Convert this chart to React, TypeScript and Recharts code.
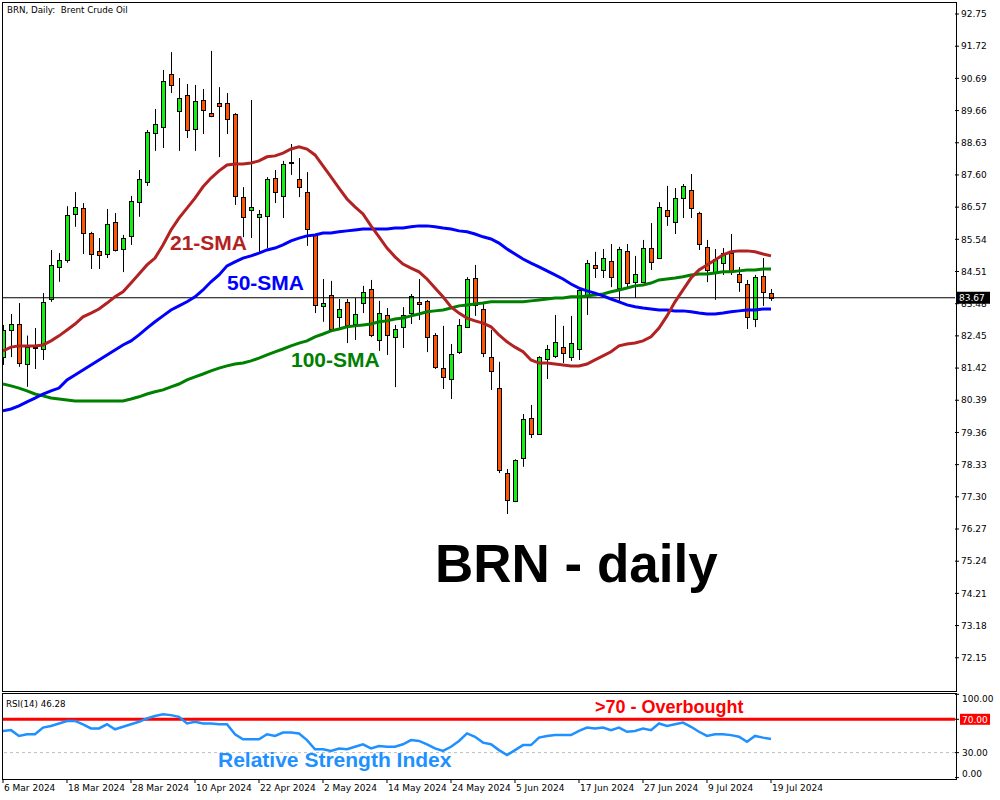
import React from "react";
import { ComposedChart, Bar, Line, XAxis, YAxis, ReferenceLine } from "recharts";

// x axis: one slot per trading day, labels every 8 bars
const dateTicks = [0, 8, 16, 24, 32, 40, 48, 56, 64, 72, 80, 88, 96];
const dateLabels = [
  "6 Mar 2024", "18 Mar 2024", "28 Mar 2024", "10 Apr 2024", "22 Apr 2024",
  "2 May 2024", "14 May 2024", "24 May 2024", "5 Jun 2024", "17 Jun 2024",
  "27 Jun 2024", "9 Jul 2024", "19 Jul 2024",
];

const priceTicks = [
  92.75, 91.72, 90.69, 89.66, 88.63, 87.6, 86.57, 85.54, 84.51, 83.48, 82.45,
  81.42, 80.39, 79.36, 78.33, 77.3, 76.27, 75.24, 74.21, 73.18, 72.15,
];
const rsiTicks = [0, 30, 70, 100];
const lastPrice = 83.67;

const opens = [
  81.77, 82.64, 82.83, 81.55, 82.1, 82.03, 83.63, 84.66, 84.88, 86.35,
  86.54, 85.74, 85.17, 85.07, 86.1, 85.23, 85.65, 86.73, 87.38, 88.94,
  89.13, 90.83, 89.65, 90.16, 89.07, 90.0, 89.58, 89.9, 89.9, 89.55,
  86.89, 86.48, 86.26, 86.29, 87.5, 86.93, 88.0, 87.47, 87.05, 85.68,
  83.41, 83.76, 83.05, 83.53, 82.83, 83.5, 83.95, 82.32, 83.12, 82.41,
  82.73, 83.18, 83.53, 83.57, 82.48, 81.42, 81.07, 81.93, 82.73, 84.3,
  83.31, 81.77, 80.78, 78.06, 77.17, 78.54, 79.82, 79.31, 81.71, 81.81,
  82.1, 81.77, 82.03, 83.73, 84.72, 84.56, 84.85, 83.98, 85.17, 84.17,
  84.17, 85.26, 84.94, 86.48, 86.1, 86.86, 87.12, 86.38, 85.3, 84.49,
  84.78, 85.1, 84.43, 84.11, 82.99, 84.37, 83.82,
];
const highs = [
  82.8, 83.15, 83.5, 82.46, 82.7, 83.82, 85.2, 85.1, 86.6, 87.05,
  86.7, 85.78, 85.58, 86.51, 86.38, 85.68, 86.93, 87.76, 89.04, 89.71,
  90.96, 91.53, 90.7, 90.51, 90.48, 90.35, 91.57, 90.41, 90.22, 89.58,
  87.21, 90.0, 86.48, 87.53, 87.76, 88.05, 88.59, 88.14, 87.69, 85.71,
  84.27, 84.21, 83.63, 83.63, 83.66, 84.05, 84.24, 83.57, 83.34, 82.8,
  83.37, 83.79, 84.27, 83.6, 82.54, 82.77, 82.19, 82.99, 84.33, 84.72,
  83.53, 82.64, 81.62, 78.19, 78.5, 79.95, 80.24, 81.8, 82.16, 83.12,
  82.77, 83.09, 83.95, 84.88, 85.14, 85.23, 85.39, 85.3, 85.39, 85.01,
  85.52, 86.06, 86.73, 87.25, 87.18, 87.31, 87.63, 86.42, 85.52, 85.23,
  85.26, 85.71, 84.65, 84.24, 84.4, 84.94, 83.95,
];
const lows = [
  81.52, 81.77, 81.46, 80.82, 81.39, 81.68, 83.54, 84.18, 84.79, 85.94,
  85.07, 84.59, 84.59, 84.94, 85.15, 84.49, 85.36, 86.26, 87.25, 88.37,
  88.46, 90.22, 88.37, 88.78, 88.37, 88.91, 89.45, 88.17, 88.91, 86.64,
  85.61, 85.58, 85.13, 85.26, 86.7, 86.22, 87.6, 86.89, 85.33, 83.18,
  82.9, 82.57, 82.67, 82.22, 82.32, 83.18, 82.41, 81.97, 81.84, 80.81,
  82.06, 82.83, 82.96, 81.93, 81.39, 80.75, 80.43, 81.87, 82.7, 83.09,
  81.77, 80.72, 78.06, 76.75, 77.13, 78.26, 79.18, 79.28, 81.07, 81.74,
  81.58, 81.65, 81.68, 83.12, 84.3, 84.3, 84.01, 83.54, 84.01, 83.66,
  84.14, 84.56, 84.91, 85.97, 85.71, 86.22, 86.22, 85.2, 84.17, 83.6,
  84.4, 84.4, 83.86, 82.67, 82.73, 83.41, 83.57,
];
const closes = [
  82.64, 82.83, 81.58, 82.1, 82.07, 83.53, 84.72, 84.88, 86.32, 86.58,
  85.74, 85.07, 85.04, 86.03, 85.2, 85.58, 86.77, 87.47, 88.97, 89.23,
  90.61, 90.48, 90.06, 89.04, 89.97, 89.68, 89.49, 89.81, 89.39, 86.93,
  86.26, 86.58, 86.35, 87.47, 87.05, 87.95, 87.97, 87.21, 85.87, 83.44,
  83.5, 82.67, 83.31, 82.8, 83.15, 83.85, 82.48, 83.18, 82.48, 82.67,
  83.12, 83.73, 83.47, 82.41, 81.45, 81.13, 81.87, 82.8, 84.27, 83.44,
  81.9, 81.33, 78.16, 77.2, 78.48, 79.79, 79.31, 81.77, 82.03, 82.26,
  81.9, 82.22, 83.92, 84.78, 84.62, 84.94, 84.33, 85.23, 84.14, 84.43,
  85.26, 84.81, 86.58, 86.29, 86.86, 87.25, 86.54, 85.39, 84.56, 84.91,
  85.1, 84.49, 84.17, 83.05, 84.33, 83.86, 83.67,
];

const sma21 = [
  81.97, 82.09, 82.13, 82.13, 82.13, 82.16, 82.29, 82.45, 82.64, 82.83,
  83.06, 83.18, 83.31, 83.5, 83.7, 83.86, 84.14, 84.43, 84.72, 84.94,
  85.36, 85.84, 86.22, 86.54, 86.86, 87.22, 87.5, 87.73, 87.92, 87.95,
  87.95, 87.98, 88.05, 88.18, 88.21, 88.3, 88.43, 88.5, 88.43, 88.24,
  87.89, 87.54, 87.18, 86.83, 86.58, 86.35, 85.97, 85.62, 85.26, 84.98,
  84.75, 84.62, 84.5, 84.27, 83.98, 83.7, 83.38, 83.18, 83.02, 82.93,
  82.86, 82.74, 82.48, 82.26, 82.09, 81.94, 81.68, 81.58, 81.58, 81.55,
  81.52, 81.49, 81.49, 81.55, 81.68, 81.81, 81.94, 82.13, 82.19, 82.22,
  82.29, 82.42, 82.7, 83.09, 83.54, 83.92, 84.3, 84.56, 84.72, 84.88,
  85.04, 85.14, 85.17, 85.17, 85.14, 85.07, 85.01,
];
const sma50 = [
  80.05, 80.11, 80.21, 80.34, 80.46, 80.59, 80.69, 80.78, 81.04, 81.2,
  81.36, 81.52, 81.68, 81.84, 82.0, 82.16, 82.29, 82.48, 82.7, 82.9,
  83.09, 83.28, 83.41, 83.54, 83.7, 83.92, 84.18, 84.4, 84.69, 84.82,
  84.94, 85.01, 85.1, 85.2, 85.26, 85.36, 85.49, 85.58, 85.65, 85.68,
  85.74, 85.74, 85.78, 85.81, 85.84, 85.87, 85.87, 85.87, 85.87, 85.9,
  85.9, 85.94, 85.97, 85.97, 85.94, 85.9, 85.87, 85.81, 85.78, 85.71,
  85.62, 85.55, 85.42, 85.23, 85.07, 84.91, 84.78, 84.66, 84.53, 84.4,
  84.27, 84.11, 83.98, 83.89, 83.82, 83.73, 83.63, 83.54, 83.44, 83.38,
  83.34, 83.31, 83.28, 83.28, 83.25, 83.25, 83.22, 83.18, 83.15, 83.15,
  83.18, 83.22, 83.25, 83.28, 83.28, 83.31, 83.31,
];
const sma100 = [
  80.91, 80.85, 80.78, 80.69, 80.59, 80.53, 80.46, 80.43, 80.4, 80.37,
  80.37, 80.37, 80.37, 80.37, 80.37, 80.37, 80.43, 80.5, 80.59, 80.66,
  80.72, 80.82, 80.91, 81.04, 81.14, 81.23, 81.33, 81.42, 81.49, 81.55,
  81.58, 81.65, 81.74, 81.84, 81.94, 82.03, 82.13, 82.22, 82.29, 82.42,
  82.51, 82.61, 82.67, 82.74, 82.77, 82.8, 82.83, 82.9, 82.93, 82.99,
  83.02, 83.09, 83.15, 83.22, 83.25, 83.28, 83.34, 83.41, 83.44, 83.47,
  83.5, 83.54, 83.54, 83.54, 83.54, 83.54, 83.57, 83.6, 83.63, 83.66,
  83.66, 83.7, 83.7, 83.73, 83.76, 83.79, 83.86, 83.92, 83.98, 84.05,
  84.08, 84.14, 84.24, 84.27, 84.3, 84.34, 84.4, 84.43, 84.43, 84.46,
  84.5, 84.5, 84.53, 84.56, 84.56, 84.59, 84.59,
];
const rsi14 = [
  56, 57, 50, 52, 52, 60, 62, 65, 68, 68,
  64, 59, 59, 64, 58, 61, 64, 67, 71, 74,
  76, 75, 73, 65, 67, 65, 65, 64, 64, 52,
  46, 46, 46, 52, 50, 54, 54, 53, 45, 34,
  34, 32, 35, 34, 37, 40, 35, 38, 37, 37,
  40, 45, 44, 40, 35, 32, 37, 44, 53, 49,
  42, 40, 33, 27, 33, 39, 39, 48, 50, 51,
  51, 51, 56, 60, 59, 60, 57, 60, 55, 56,
  59, 57, 65, 62, 64, 66, 61, 55, 50, 52,
  52, 51, 49, 43, 50, 48, 46.28,
];

const BULL = "#14F014";
const BEAR = "#FF5500";
const SMALL_FONT = "'DejaVu Sans', sans-serif";
const BOLD_FONT = "'Liberation Sans', Arial, sans-serif";

const data = opens.map((open, i) => ({
  i,
  open,
  high: highs[i],
  low: lows[i],
  close: closes[i],
  range: [lows[i], highs[i]],
  sma21: sma21[i],
  sma50: sma50[i],
  sma100: sma100[i],
  rsi: rsi14[i],
}));

// candle drawn inside the low-high bar that recharts positions for us
function Candle(props: any) {
  const { x, y, width, height, payload } = props;
  if (x == null || y == null || !payload) return null;
  const cx = Math.round(x + width / 2) + 0.5;
  const span = payload.high - payload.low;
  const k = span > 0 ? height / span : 0;
  const yOpen = y + (payload.high - payload.open) * k;
  const yClose = y + (payload.high - payload.close) * k;
  const top = Math.round(Math.min(yOpen, yClose)) + 0.5;
  const bottom = Math.max(Math.round(Math.max(yOpen, yClose)) + 0.5, top + 1);
  const up = payload.close >= payload.open;
  return (
    <g>
      <line x1={cx} x2={cx} y1={y} y2={y + height} stroke="#000" strokeWidth={1} />
      <rect x={cx - 2} y={top} width={4} height={bottom - top} fill={up ? BULL : BEAR} stroke="#000" strokeWidth={1} />
    </g>
  );
}

function PriceTag(props: any) {
  const vb = props.viewBox;
  if (!vb) return null;
  const left = vb.x + vb.width + 1;
  return (
    <g>
      <rect x={left} y={vb.y - 6} width={34} height={12} fill="#000" />
      <text x={left + 3} y={vb.y + 3.5} fontSize={9} fontFamily={SMALL_FONT} fill="#fff">
        {lastPrice.toFixed(2)}
      </text>
    </g>
  );
}

function RsiTick(props: any) {
  const { x, y, payload } = props;
  const v = payload.value;
  if (v === 70) {
    return (
      <g>
        <rect x={x - 1} y={y - 5.5} width={30} height={11} fill="#FF0000" />
        <text x={x + 1} y={y + 3.5} fontSize={9} fontFamily={SMALL_FONT} fill="#fff">
          {v.toFixed(2)}
        </text>
      </g>
    );
  }
  const shift = v === 100 ? 4 : v === 0 ? -4.5 : 0;
  return (
    <text x={x + 1} y={y + 3.5 + shift} fontSize={9} fontFamily={SMALL_FONT} fill="#000">
      {v.toFixed(2)}
    </text>
  );
}

function DateTick(props: any) {
  const { x, y, payload } = props;
  const idx = dateTicks.indexOf(payload.value);
  return (
    <text x={x + 1} y={y + 6} fontSize={9} fontFamily={SMALL_FONT} fill="#000">
      {dateLabels[idx]}
    </text>
  );
}

const App = () => {
  return (
    <div
      style={{
        position: "absolute",
        left: 0,
        top: 0,
        width: 1000,
        height: 800,
        background: "#fff",
        overflow: "hidden",
      }}>
      <div style={{ position: "absolute", left: 0, top: 0 }}>
        <ComposedChart width={1000} height={692} data={data} margin={{ top: 3, right: 0, bottom: 1, left: 3 }}>
          <XAxis dataKey="i" type="number" domain={[0, 119]} allowDataOverflow hide />
          <YAxis
            orientation="right"
            width={45}
            domain={[71.086, 93.102]}
            ticks={priceTicks}
            interval={0}
            allowDataOverflow
            axisLine={false}
            tickLine={{ stroke: "#000" }}
            tickSize={4}
            tickMargin={2}
            tick={{ fontSize: 9, fill: "#000", fontFamily: SMALL_FONT }}
            tickFormatter={(v: number) => v.toFixed(2)}
          />
          <ReferenceLine y={lastPrice} stroke="#000" strokeWidth={1} label={<PriceTag />} />
          <Bar dataKey="range" barSize={7} shape={<Candle />} isAnimationActive={false} />
          <Line type="linear" dataKey="sma100" stroke="#008000" strokeWidth={3} dot={false} activeDot={false} isAnimationActive={false} />
          <Line type="linear" dataKey="sma50" stroke="#0000FF" strokeWidth={3} dot={false} activeDot={false} isAnimationActive={false} />
          <Line type="linear" dataKey="sma21" stroke="#B22222" strokeWidth={3} dot={false} activeDot={false} isAnimationActive={false} />
        </ComposedChart>
      </div>

      <div style={{ position: "absolute", left: 0, top: 690 }}>
        <ComposedChart width={1000} height={110} data={data} margin={{ top: 3, right: 0, bottom: 0, left: 3 }}>
          <XAxis
            dataKey="i"
            type="number"
            domain={[0, 119]}
            allowDataOverflow
            ticks={dateTicks}
            interval={0}
            height={21}
            axisLine={false}
            tickLine={{ stroke: "#000" }}
            tickSize={4}
            tick={<DateTick />}
          />
          <YAxis
            orientation="right"
            width={45}
            domain={[-1.68, 101.56]}
            ticks={rsiTicks}
            interval={0}
            allowDataOverflow
            axisLine={false}
            tickLine={{ stroke: "#000" }}
            tickSize={4}
            tickMargin={2}
            tick={<RsiTick />}
          />
          <ReferenceLine y={30} stroke="#BDBDBD" strokeDasharray="3 3" />
          <ReferenceLine y={70} stroke="#FF0000" strokeWidth={3} />
          <Line type="linear" dataKey="rsi" stroke="#1E90FF" strokeWidth={2.5} dot={false} activeDot={false} isAnimationActive={false} />
        </ComposedChart>
      </div>

      {/* pane frames */}
      <div style={{ position: "absolute", left: 2, top: 2, width: 955, height: 690, border: "1px solid #000", boxSizing: "border-box", pointerEvents: "none" }} />
      <div style={{ position: "absolute", left: 2, top: 693, width: 955, height: 87, border: "1px solid #000", boxSizing: "border-box", pointerEvents: "none" }} />

      {/* annotations */}
      <svg width={1000} height={800} style={{ position: "absolute", left: 0, top: 0, pointerEvents: "none" }}>
        <text x={7} y={13} fontSize={8.7} fontFamily={SMALL_FONT} fill="#000" style={{ whiteSpace: "pre" }}>
          {"BRN, Daily:  Brent Crude Oil"}
        </text>
        <text x={6} y={707} fontSize={8.7} fontFamily={SMALL_FONT} fill="#000">
          RSI(14) 46.28
        </text>
        <text x={170} y={250} fontSize={21} fontWeight="bold" fontFamily={BOLD_FONT} fill="#B22222">
          21-SMA
        </text>
        <text x={227} y={290} fontSize={21} fontWeight="bold" fontFamily={BOLD_FONT} fill="#0000FF">
          50-SMA
        </text>
        <text x={291} y={367} fontSize={21} fontWeight="bold" fontFamily={BOLD_FONT} fill="#008000">
          100-SMA
        </text>
        <text x={435} y={582} fontSize={53} fontWeight="bold" fontFamily={BOLD_FONT} fill="#000">
          BRN - daily
        </text>
        <text x={595} y={713} fontSize={18} fontWeight="bold" fontFamily={BOLD_FONT} fill="#FF0000">
          {">70 - Overbought"}
        </text>
        <text x={218} y={767} fontSize={21} fontWeight="bold" fontFamily={BOLD_FONT} fill="#1E90FF">
          Relative Strength Index
        </text>
      </svg>
    </div>
  );
};

export default App;
